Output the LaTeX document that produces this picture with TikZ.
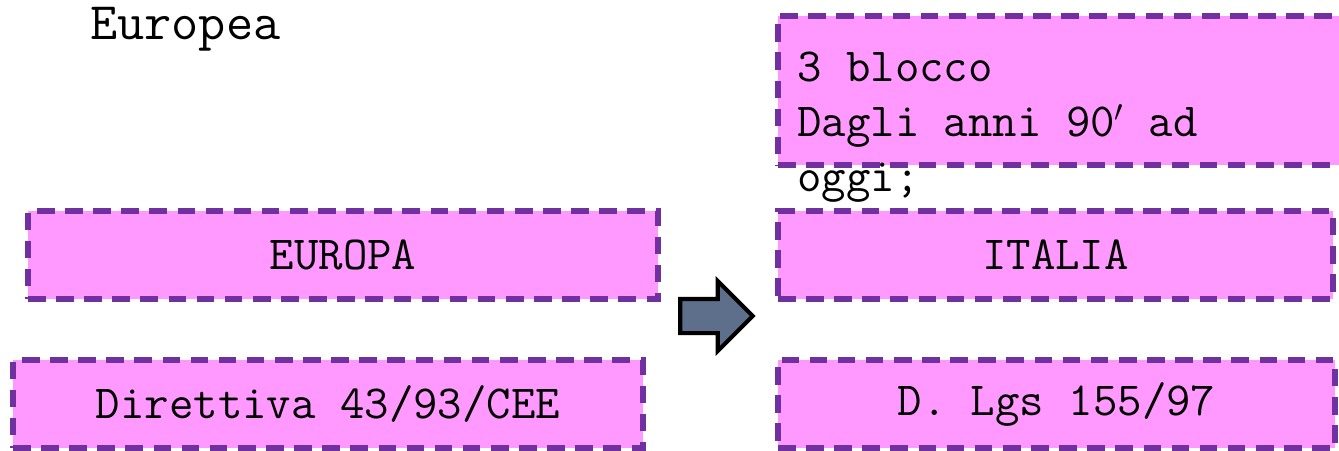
\documentclass[tikz,border=0pt]{standalone}
\usepackage{tikz}
\usetikzlibrary{shapes.arrows,positioning}

\definecolor{rosa}{RGB}{255,153,255}
\definecolor{viola}{RGB}{112,48,160}
\definecolor{ardesia}{RGB}{93,111,138}

\tikzset{
  riquadro/.style={draw=viola,fill=rosa,line width=3.2pt,dash pattern=on 10pt off 6pt,
    rectangle,inner sep=0pt,minimum height=1.76cm,font=\testo},
  scritta/.style={inner sep=0pt,font=\testo}
}
\newcommand{\testo}{\ttfamily\fontsize{27}{31.3}\selectfont}

\begin{document}
\begin{tikzpicture}
  \useasboundingbox (0,0) rectangle (26.78,9);

  % titolo in alto a sinistra
  \node[scritta,anchor=base west,font=\ttfamily\fontsize{30}{34}\selectfont] (europea) at (1.8,8.2) {Europea};

  % colonna di sinistra
  \node[riquadro,minimum width=12.6cm] (europa) at (6.86,3.9) {EUROPA};
  \node[riquadro,minimum width=12.6cm] (direttiva) at (6.56,0.92) {Direttiva 43/93/CEE};

  % colonna di destra
  \node[riquadro,minimum width=11.36cm,minimum height=2.98cm] (blocco) at (21.24,7.19) {};
  \node[scritta,anchor=north west,align=left] (bloccotxt) at (15.94,7.96)
    {3 blocco\\Dagli anni 90$'$ ad\\oggi;};
  \node[riquadro,minimum width=11.1cm] (italia) at (21.11,3.9) {ITALIA};
  \node[riquadro,minimum width=11.14cm] (dlgs) at (21.13,0.92) {D. Lgs 155/97};

  % freccia tra le colonne
  \node[single arrow,draw=black,fill=ardesia,line width=2.3pt,inner xsep=0pt,inner ysep=0.3cm,
    minimum height=1.45cm,single arrow head extend=0.36cm,
    single arrow tip angle=90] (passo) at (14.16,2.68) {};

\end{tikzpicture}
\end{document}
